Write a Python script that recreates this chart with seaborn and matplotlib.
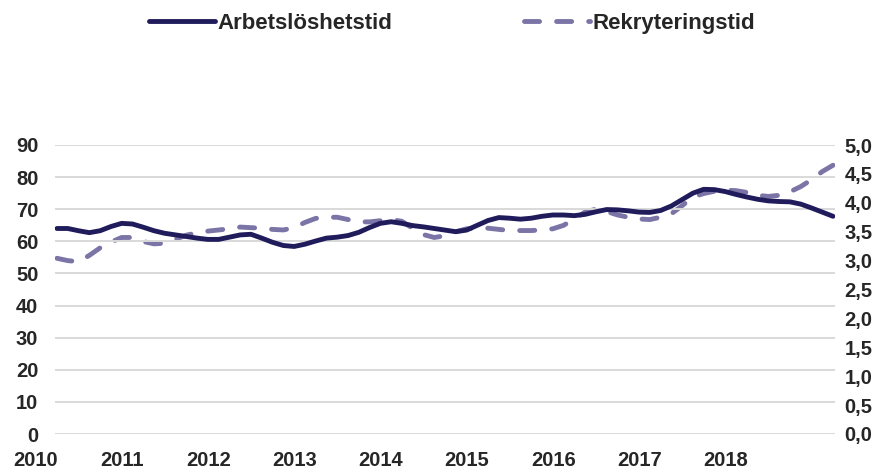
import numpy as np
import pandas as pd
import seaborn as sns
import matplotlib.pyplot as plt
from matplotlib.transforms import ScaledTranslation
from matplotlib.lines import Line2D

# readings every half quarter, from early 2010 to early 2019
arbetsloshetstid = [64.0, 64.0, 63.3, 62.7, 63.3, 64.6, 65.6, 65.4, 64.4, 63.3,
                    62.5, 62.0, 61.5, 61.0, 60.6, 60.6, 61.3, 62.0, 62.2, 61.0,
                    59.7, 58.7, 58.4, 59.1, 60.1, 61.0, 61.3, 61.8, 62.8, 64.3,
                    65.6, 66.1, 65.6, 64.9, 64.5, 64.0, 63.5, 63.0, 63.5, 65.0,
                    66.5, 67.4, 67.2, 66.9, 67.2, 67.8, 68.2, 68.2, 68.0, 68.4,
                    69.2, 69.9, 69.8, 69.5, 69.1, 69.0, 69.6, 71.0, 73.0, 75.0,
                    76.2, 76.1, 75.5, 74.6, 73.8, 73.1, 72.6, 72.4, 72.3, 71.6,
                    70.4, 69.1, 67.8]
rekryteringstid = [3.04, 3.00, 2.98, 3.09, 3.22, 3.32, 3.40, 3.40, 3.33, 3.29,
                   3.30, 3.37, 3.44, 3.48, 3.51, 3.53, 3.55, 3.58, 3.57, 3.56,
                   3.54, 3.53, 3.57, 3.66, 3.73, 3.75, 3.75, 3.71, 3.67, 3.67,
                   3.69, 3.71, 3.68, 3.56, 3.45, 3.40, 3.43, 3.50, 3.55, 3.56,
                   3.56, 3.54, 3.52, 3.52, 3.52, 3.53, 3.55, 3.61, 3.72, 3.84,
                   3.89, 3.85, 3.79, 3.75, 3.72, 3.71, 3.75, 3.81, 3.95, 4.10,
                   4.16, 4.20, 4.22, 4.21, 4.18, 4.13, 4.11, 4.13, 4.19, 4.28,
                   4.40, 4.54, 4.65]
years = list(range(2010, 2019))
left_ticks = [0, 10, 20, 30, 40, 50, 60, 70, 80, 90]
right_ticks = [0.0, 0.5, 1.0, 1.5, 2.0, 2.5, 3.0, 3.5, 4.0, 4.5, 5.0]

df = pd.DataFrame({
    "t": 2010.25 + 0.125 * np.arange(len(arbetsloshetstid)),
    "Arbetslöshetstid": arbetsloshetstid,
    "Rekryteringstid": rekryteringstid,
})

DARK = "#201c5c"
LIGHT = "#7b74a6"
LW = 3.5

sns.set_style("white")
plt.rcParams["font.family"] = ["Liberation Sans", "DejaVu Sans"]
plt.rcParams["font.weight"] = "bold"

fig = plt.figure(figsize=(8.88, 4.70), dpi=100)
ax = fig.add_axes([55 / 888, 1 - 434 / 470, 780 / 888, 289 / 470])
ax2 = ax.twinx()

sns.lineplot(data=df, x="t", y="Arbetslöshetstid", ax=ax, color=DARK,
             linewidth=LW, zorder=3)
sns.lineplot(data=df, x="t", y="Rekryteringstid", ax=ax2, color=LIGHT,
             linewidth=LW, zorder=2)
dash_line = ax2.lines[-1]
dash_line.set_dashes((3.1, 3.5))
dash_line.set_dash_capstyle("round")
dash_line.set_dash_joinstyle("round")
ax.lines[-1].set_solid_capstyle("round")
ax.lines[-1].set_solid_joinstyle("round")

ax.set_zorder(ax2.get_zorder() + 1)
ax.patch.set_visible(False)

ax.set_xlim(2010.227, 2019.273)
ax.set_ylim(0, 90)
ax2.set_ylim(0, 5)

ax.set_yticks(left_ticks)
ax.set_yticklabels([str(v) for v in left_ticks])
ax2.set_yticks(right_ticks)
ax2.set_yticklabels([f"{v:.1f}".replace(".", ",") for v in right_ticks])

ax.set_xticks([y + 0.25 for y in years])
ax.set_xticklabels([str(y) for y in years])

for a in (ax, ax2):
    a.set_xlabel("")
    a.set_ylabel("")
    for s in a.spines.values():
        s.set_visible(False)
ax.tick_params(axis="y", length=0, pad=12, labelsize=14.5)
ax.tick_params(axis="x", length=0, pad=12, labelsize=14.5)
ax2.tick_params(axis="y", length=0, pad=7, labelsize=14.5)

# year labels sit a bit left of the first quarter
shift = ScaledTranslation(-21 / 100, 0, fig.dpi_scale_trans)
for lab in ax.get_xticklabels():
    lab.set_transform(lab.get_transform() + shift)

ax.grid(axis="y", color="#d9d9d9", linewidth=1.4)
ax.grid(axis="x", visible=False)
ax2.grid(False)
ax.set_axisbelow(True)

handles = [
    Line2D([], [], color=DARK, linewidth=LW, solid_capstyle="round"),
    Line2D([], [], color=LIGHT, linewidth=LW, dashes=(3.1, 3.5),
           dash_capstyle="round"),
]
fig.legend(handles, ["Arbetslöshetstid", "Rekryteringstid"],
           loc="center", bbox_to_anchor=(0.509, 0.951), ncol=2, frameon=False,
           fontsize=16, handlelength=3.0, handletextpad=0.1,
           columnspacing=5.9)

fig.savefig("out.png", dpi=100)
